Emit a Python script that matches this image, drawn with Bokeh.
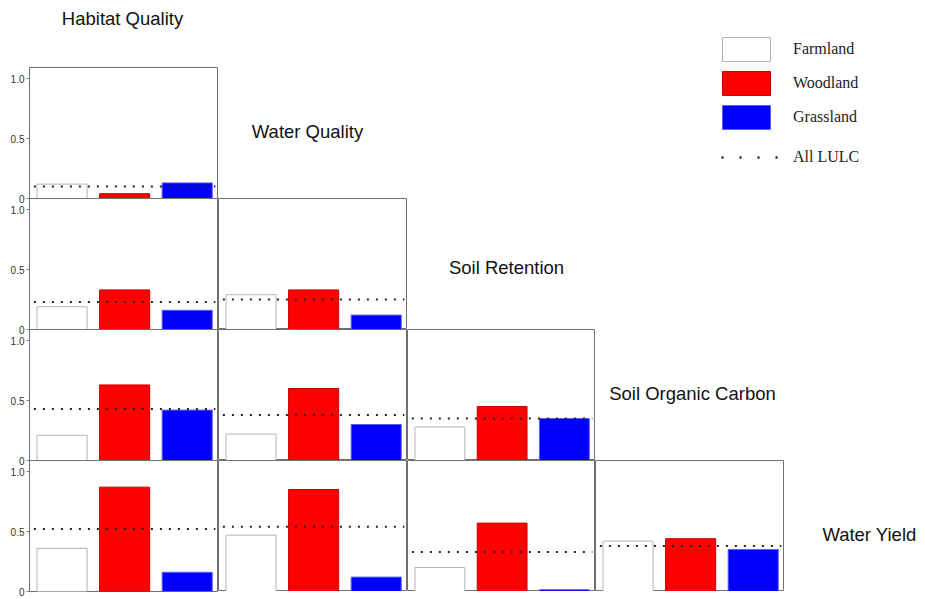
import numpy as np
from bokeh.plotting import figure
from bokeh.layouts import row, column
from bokeh.models import (Range1d, FixedTicker, Legend, LegendItem, ColumnDataSource,
                          Span)
from bokeh.core.properties import value
from bokeh.embed import file_html
from bokeh.resources import INLINE

# Ecosystem services (diagonal labels) and land-use types
services = ["Habitat Quality", "Water Quality", "Soil Retention",
            "Soil Organic Carbon", "Water Yield"]
lulc_types = ["Farmland", "Woodland", "Grassland"]
overall_label = "All LULC"

# One entry per service pair: row service index, column service index
pair_rows = [1, 2, 2, 3, 3, 3, 4, 4, 4, 4]
pair_cols = [0, 0, 1, 0, 1, 2, 0, 1, 2, 3]

# Values per land-use type for each pair, and the value over all LULC
farmland = [0.12, 0.19, 0.29, 0.21, 0.22, 0.28, 0.36, 0.47, 0.20, 0.42]
woodland = [0.04, 0.33, 0.33, 0.63, 0.60, 0.45, 0.87, 0.85, 0.57, 0.44]
grassland = [0.13, 0.16, 0.12, 0.42, 0.30, 0.35, 0.16, 0.12, 0.015, 0.35]
all_lulc = [0.10, 0.23, 0.25, 0.43, 0.38, 0.35, 0.52, 0.54, 0.33, 0.38]

y_ticks = [0, 0.5, 1.0]
y_tick_labels = ["0", "0.5", "1.0"]

# Styling
fill_colors = ["#ffffff", "#ff0000", "#0000ff"]
edge_colors = ["#b4b4b4", "#c80000", "#5a5aff"]
FRAME = "#707070"
SANS = "Liberation Sans"
SERIF = "Liberation Serif"

LEFT = 29
COL_W = [189, 189, 188, 189]
ROW_H = 131
TOP = 67
BOTTOM = 8
TOTAL_W = 925
Y_SPAN = 1.092           # value range shown by one panel row
N_ROWS = max(pair_rows)
X_RANGE = (-0.52, 2.5)


def blank(w, h, left=0):
    # Text-only canvas whose data units are pixels measured from the top-left
    p = figure(width=w, height=h, x_range=Range1d(left, w), y_range=Range1d(h, 0),
               toolbar_location=None, output_backend="svg", title_location=None,
               x_axis_type=None, y_axis_type=None, min_border=0,
               min_border_left=left)
    p.outline_line_color = None
    p.grid.visible = False
    return p


def title_text(p, x, y, s):
    p.text(x=[x], y=[y], text=[s], text_font=value(SANS), text_font_size="18.5px",
           text_align="center", text_baseline="middle", text_color="#111111")


def draw_pair(p, k, base=0.0):
    # Three land-use bars plus the dotted all-LULC level, raised by `base`
    xs = np.arange(len(lulc_types))
    vals = np.array([farmland[k], woodland[k], grassland[k]])
    src = ColumnDataSource(dict(x=xs, bottom=np.full(len(xs), base), top=base + vals,
                                fill=fill_colors, edge=edge_colors))
    p.vbar(x="x", top="top", bottom="bottom", width=0.8, source=src,
           fill_color="fill", line_color="edge", line_width=1)
    level = base + all_lulc[k]
    p.segment(x0=[xs[0] - 0.45], x1=[xs[-1] + 0.45], y0=[level], y1=[level],
              line_color="#222222", line_width=2, line_dash="2 7")


def panel(k):
    p = figure(width=COL_W[pair_cols[k]], height=ROW_H, x_range=Range1d(*X_RANGE),
               y_range=Range1d(0, Y_SPAN), toolbar_location=None,
               output_backend="svg", title_location=None, x_axis_type=None,
               y_axis_type=None, min_border=0)
    p.grid.visible = False
    p.outline_line_color = FRAME
    p.outline_line_width = 1
    draw_pair(p, k)
    return p


# First column: all four rows share one canvas with a stacked value axis
col1 = figure(width=LEFT + COL_W[0], height=N_ROWS * ROW_H + BOTTOM,
              x_range=Range1d(*X_RANGE), y_range=Range1d(0, N_ROWS * Y_SPAN),
              toolbar_location=None, output_backend="svg", title_location=None,
              x_axis_type=None, min_border=0, min_border_left=LEFT,
              min_border_bottom=BOTTOM)
col1.grid.visible = False
col1.outline_line_color = FRAME
col1.outline_line_width = 1

tick_pos, tick_text = [], []
for k in range(len(pair_rows)):
    if pair_cols[k] != 0:
        continue
    base = (N_ROWS - pair_rows[k]) * Y_SPAN
    draw_pair(col1, k, base)
    tick_pos += [base + t for t in y_ticks]
    tick_text += y_tick_labels
    if base > 0:
        col1.add_layout(Span(location=base, dimension="width", line_color=FRAME,
                             line_width=1))

ax = col1.yaxis[0]
ax.ticker = FixedTicker(ticks=tick_pos, minor_ticks=[])
ax.major_label_overrides = dict(zip(tick_pos, tick_text))
ax.axis_line_color = FRAME
ax.major_tick_out = 3
ax.major_tick_in = 0
ax.minor_tick_out = 0
ax.minor_tick_in = 0
ax.major_tick_line_color = "#808080"
ax.major_label_standoff = 2
ax.major_label_text_font = SANS
ax.major_label_text_font_size = "10px"
ax.major_label_text_color = "#333333"

panels = {k: panel(k) for k in range(len(pair_rows)) if pair_cols[k] != 0}

# Title above the first column
hq_fig = blank(LEFT + COL_W[0], TOP, left=LEFT)
title_text(hq_fig, 122, 18, services[0])

# Block right of the first panel row: second title and the legend
lg_w = TOTAL_W - LEFT - COL_W[0]
lg_fig = blank(lg_w, TOP + ROW_H)
title_text(lg_fig, 89, 131, services[1])

swatches = []
for name, fc, ec in zip(lulc_types, fill_colors, edge_colors):
    r = lg_fig.vbar(x=[np.nan], top=[np.nan], width=1, fill_color=fc, line_color=ec,
                    line_width=1)
    swatches.append(LegendItem(label=name, renderers=[r]))
dot_r = lg_fig.line(x=[np.nan], y=[np.nan], line_color="#222222", line_width=2.5,
                    line_dash="2 16")

legend_kw = dict(orientation="vertical", padding=0, margin=0, border_line_color=None,
                 background_fill_alpha=0, label_text_font=SERIF,
                 label_text_font_size="16px", label_text_color="#222222",
                 label_text_baseline="middle")
lg_main = Legend(items=swatches, location=(498, 66), glyph_width=60, glyph_height=30,
                 label_height=30, label_standoff=17, spacing=4, **legend_kw)
lg_dots = Legend(items=[LegendItem(label=overall_label, renderers=[dot_r])],
                 location=(503, 29), glyph_width=57, glyph_height=24, label_height=24,
                 label_standoff=15, spacing=0, **legend_kw)
lg_fig.add_layout(lg_main)
lg_fig.add_layout(lg_dots)

# Remaining panel rows with the next diagonal title at their right
sr_fig = blank(lg_w - COL_W[1], ROW_H)
title_text(sr_fig, 99, 69, services[2])
soc_fig = blank(lg_w - COL_W[1] - COL_W[2], ROW_H)
title_text(soc_fig, 97, 64, services[3])
wy_fig = blank(lg_w - COL_W[1] - COL_W[2] - COL_W[3], ROW_H)
title_text(wy_fig, 85, 74, services[4])

right = column(
    lg_fig,
    row(panels[2], sr_fig),
    row(panels[4], panels[5], soc_fig),
    row(panels[7], panels[8], panels[9], wy_fig),
)
layout = row(column(hq_fig, col1), right)

with open("out.html", "w") as f:
    f.write(file_html(layout, INLINE))
